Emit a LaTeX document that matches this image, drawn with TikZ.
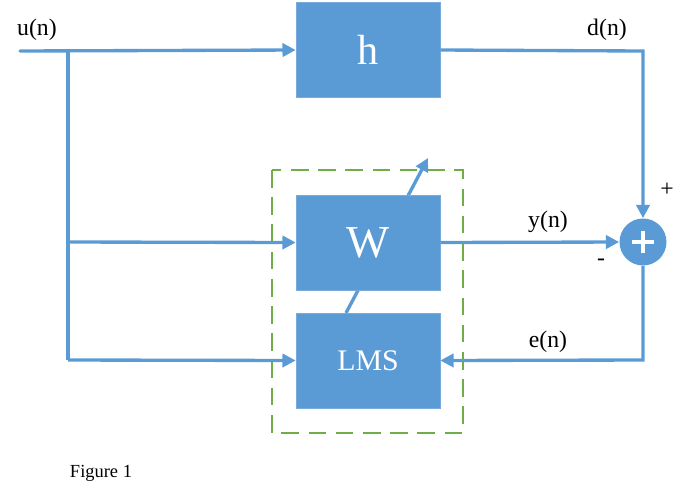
\documentclass[tikz,border=0pt]{standalone}
\usepackage{fontspec}
\setmainfont{Liberation Serif}
\usetikzlibrary{arrows.meta}
\definecolor{blockblue}{RGB}{91,155,213}
\definecolor{edgeblue}{RGB}{120,170,220}
\definecolor{boxgreen}{RGB}{112,173,71}
\tikzset{
  block/.style={draw=edgeblue, fill=blockblue, text=white, minimum width=2.88cm, minimum height=1.9cm, inner sep=0pt},
  wire/.style={draw=blockblue, line width=1.9pt},
  arw/.style={wire, -{Triangle[length=7.5pt,width=7.5pt]}},
  lbl/.style={font=\fontsize{13.5}{15}\selectfont}
}
\begin{document}
\begin{tikzpicture}[x=0.02cm,y=-0.02cm]
  \useasboundingbox (0,0) rectangle (687,495);

  % input and branch points
  \coordinate (in) at (20,51);
  \coordinate (split) at (68,51);
  \coordinate (splitW) at (68,242);
  \coordinate (splitL) at (68,360);
  \coordinate (tip) at (428,158);
  \coordinate (dcorner) at (643,51);
  \coordinate (ecorner) at (643,360);

  % adaptive path (drawn first, under W)
  \draw[arw] (346,313) -- (tip);

  % blocks
  \node[block, font=\fontsize{24}{26}\selectfont] (h) at (368,50) {h};
  \node[block, font=\fontsize{26}{28}\selectfont] (W) at (368,242.5) {W};
  \node[block, font=\fontsize{17}{19}\selectfont] (lms) at (368,360.5) {LMS};
  \node[circle, fill=blockblue, minimum size=0.94cm, inner sep=0pt] (sum) at (643,242) {};
  \draw[white, line width=2.8pt] ([xshift=-6.5pt]sum.center) -- ([xshift=6.5pt]sum.center)
    ([yshift=-6.5pt]sum.center) -- ([yshift=6.5pt]sum.center);

  % dashed filter box
  \draw[boxgreen, line width=1.5pt, dash pattern=on 10pt off 5.5pt] (272,170) rectangle (463,433);

  % wires
  \draw[arw, line cap=round] (in) -- (h.west);
  \draw[wire] (split) -- (splitL);
  \draw[arw] (splitW) -- (W.west);
  \draw[arw] (splitL) -- (lms.west);
  \draw[arw] (h.east) -- (dcorner) -- (sum.north);
  \draw[arw] (W.east) -- (sum.west);
  \draw[arw] (sum.south) -- (ecorner) -- (lms.east);

  % labels
  \node[lbl] (ulbl) at (37,30) {u(n)};
  \node[lbl] (dlbl) at (607,30) {d(n)};
  \node[lbl] (ylbl) at (548,222) {y(n)};
  \node[lbl] (elbl) at (548,342) {e(n)};
  \node[lbl] (plus) at (667,190) {+};
  \node[lbl] (minus) at (601,262) {-};
  \node[font=\fontsize{10.5}{12}\selectfont] (cap) at (101,473) {Figure 1};
\end{tikzpicture}
\end{document}
